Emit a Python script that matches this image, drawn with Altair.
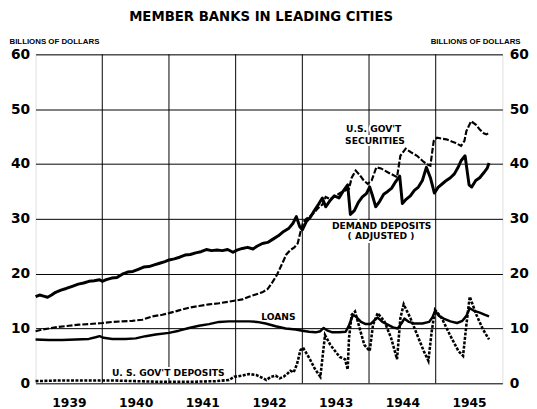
import altair as alt
import pandas as pd

# ---------------- data ----------------
dd_dates = [1939.00, 1939.06, 1939.12, 1939.18, 1939.24, 1939.30, 1939.38, 1939.46, 1939.55, 1939.64,
            1939.72, 1939.80, 1939.88, 1939.96, 1940.00, 1940.06, 1940.14, 1940.22, 1940.30, 1940.38,
            1940.46, 1940.54, 1940.62, 1940.70, 1940.78, 1940.86, 1940.94, 1941.00, 1941.08, 1941.16,
            1941.24, 1941.32, 1941.40, 1941.48, 1941.56, 1941.64, 1941.72, 1941.80, 1941.88, 1941.96,
            1942.02, 1942.10, 1942.18, 1942.26, 1942.32, 1942.40, 1942.48, 1942.56, 1942.64, 1942.72,
            1942.80, 1942.86, 1942.91, 1942.96, 1943.00, 1943.06, 1943.12, 1943.18, 1943.24, 1943.30,
            1943.35, 1943.42, 1943.48, 1943.55, 1943.62, 1943.68, 1943.72, 1943.78, 1943.84, 1943.90,
            1943.96, 1944.01, 1944.05, 1944.10, 1944.16, 1944.22, 1944.28, 1944.34, 1944.40, 1944.46,
            1944.50, 1944.56, 1944.62, 1944.68, 1944.74, 1944.80, 1944.86, 1944.92, 1944.98, 1945.04,
            1945.10, 1945.16, 1945.22, 1945.28, 1945.34, 1945.38, 1945.44, 1945.50, 1945.54, 1945.60,
            1945.66, 1945.72, 1945.77, 1945.80]
dd_values = [15.8, 16.1, 15.9, 15.7, 16.1, 16.6, 17.0, 17.3, 17.7, 18.1,
             18.3, 18.6, 18.7, 18.9, 18.6, 18.9, 19.2, 19.3, 19.9, 20.3,
             20.4, 20.8, 21.2, 21.3, 21.6, 21.9, 22.2, 22.5, 22.7, 23.0,
             23.4, 23.5, 23.8, 24.0, 24.4, 24.2, 24.3, 24.2, 24.4, 23.9,
             24.3, 24.6, 24.8, 24.5, 25.0, 25.5, 25.7, 26.3, 26.9, 27.7,
             28.3, 29.2, 30.4, 28.6, 28.0, 29.5, 30.3, 31.5, 32.6, 33.8,
             32.2, 33.4, 34.2, 33.8, 35.2, 36.2, 30.8, 31.5, 33.0, 34.0,
             34.6, 35.8, 34.3, 32.2, 33.2, 34.5, 35.0, 35.6, 36.8, 37.8,
             32.8, 33.6, 34.2, 35.2, 35.8, 37.0, 39.4, 37.5, 34.7, 35.8,
             36.4, 37.0, 37.5, 38.2, 39.5, 40.6, 41.5, 36.2, 35.8, 37.0,
             37.5, 38.4, 39.2, 40.2]

gs_dates = [1939.00, 1939.10, 1939.20, 1939.35, 1939.50, 1939.65, 1939.80, 1940.00, 1940.15, 1940.30,
            1940.45, 1940.60, 1940.75, 1940.90, 1941.00, 1941.15, 1941.30, 1941.45, 1941.60, 1941.75,
            1941.90, 1942.00, 1942.10, 1942.20, 1942.30, 1942.40, 1942.48, 1942.55, 1942.62, 1942.70,
            1942.76, 1942.82, 1942.88, 1942.93, 1942.97, 1943.01, 1943.06, 1943.12, 1943.18, 1943.24,
            1943.30, 1943.35, 1943.42, 1943.50, 1943.58, 1943.65, 1943.70, 1943.74, 1943.80, 1943.86,
            1943.92, 1943.98, 1944.04, 1944.11, 1944.18, 1944.28, 1944.36, 1944.42, 1944.47, 1944.55,
            1944.62, 1944.72, 1944.80, 1944.86, 1944.92, 1944.97, 1945.02, 1945.10, 1945.16, 1945.24,
            1945.29, 1945.38, 1945.43, 1945.46, 1945.53, 1945.60, 1945.66, 1945.72, 1945.76, 1945.80]
gs_values = [9.5, 9.8, 10.0, 10.3, 10.5, 10.7, 10.8, 11.0, 11.2, 11.3,
             11.4, 11.6, 12.2, 12.5, 12.8, 13.3, 13.8, 14.1, 14.4, 14.6,
             14.9, 15.1, 15.3, 15.8, 16.2, 16.6, 17.2, 18.4, 19.8, 21.9,
             23.5, 24.3, 24.8, 25.5, 27.5, 29.3, 30.0, 30.5, 31.2, 32.0,
             32.6, 34.0, 33.6, 34.2, 34.8, 35.2, 35.5, 37.5, 38.8, 38.0,
             37.0, 36.4, 37.0, 39.4, 39.2, 38.5, 38.0, 37.6, 41.5, 42.8,
             42.2, 41.5, 40.6, 40.0, 39.7, 44.2, 44.8, 44.6, 44.5, 44.1,
             43.9, 43.3, 44.2, 46.0, 47.8, 47.2, 46.3, 45.6, 45.4, 45.7]

ln_dates = [1939.00, 1939.20, 1939.40, 1939.60, 1939.80, 1939.90, 1939.96, 1940.02, 1940.15, 1940.35,
            1940.50, 1940.65, 1940.80, 1941.00, 1941.15, 1941.30, 1941.45, 1941.60, 1941.75, 1941.90,
            1942.05, 1942.20, 1942.32, 1942.45, 1942.60, 1942.75, 1942.90, 1943.00, 1943.10, 1943.20,
            1943.27, 1943.32, 1943.38, 1943.45, 1943.55, 1943.65, 1943.70, 1943.76, 1943.80, 1943.88,
            1943.95, 1944.02, 1944.08, 1944.13, 1944.20, 1944.28, 1944.36, 1944.43, 1944.49, 1944.53,
            1944.60, 1944.68, 1944.80, 1944.90, 1944.95, 1944.99, 1945.05, 1945.12, 1945.22, 1945.32,
            1945.40, 1945.46, 1945.51, 1945.58, 1945.66, 1945.74, 1945.80]
ln_values = [8.0, 7.9, 7.9, 8.0, 8.1, 8.4, 8.6, 8.3, 8.1, 8.1,
             8.2, 8.6, 8.9, 9.2, 9.6, 10.1, 10.5, 10.8, 11.2, 11.3,
             11.3, 11.3, 11.2, 10.9, 10.4, 10.0, 9.8, 9.6, 9.4, 9.3,
             9.5, 10.1, 9.6, 9.3, 9.3, 9.4, 10.6, 12.5, 12.2, 11.2,
             10.8, 10.8, 11.5, 12.0, 11.2, 10.7, 10.2, 10.0, 11.0, 11.8,
             11.2, 10.9, 10.9, 11.2, 12.0, 13.2, 12.3, 11.8, 11.3, 11.0,
             11.4, 12.3, 13.7, 13.2, 12.9, 12.5, 12.2]

gd_dates = [1939.00, 1939.30, 1939.60, 1939.90, 1940.20, 1940.50, 1940.80, 1941.10, 1941.40, 1941.70,
            1941.90, 1941.98, 1942.10, 1942.20, 1942.31, 1942.40, 1942.46, 1942.53, 1942.60, 1942.66,
            1942.72, 1942.78, 1942.82, 1942.87, 1942.92, 1942.97, 1943.01, 1943.10, 1943.19, 1943.27,
            1943.34, 1943.42, 1943.49, 1943.56, 1943.64, 1943.68, 1943.70, 1943.74, 1943.79, 1943.86,
            1943.93, 1944.01, 1944.06, 1944.13, 1944.23, 1944.33, 1944.42, 1944.47, 1944.52, 1944.62,
            1944.72, 1944.82, 1944.89, 1944.94, 1944.99, 1945.09, 1945.21, 1945.34, 1945.41, 1945.46,
            1945.51, 1945.61, 1945.71, 1945.80]
gd_values = [0.4, 0.5, 0.5, 0.5, 0.5, 0.4, 0.3, 0.3, 0.3, 0.4,
             0.6, 1.2, 1.4, 1.7, 1.5, 1.0, 0.6, 1.2, 1.4, 0.9,
             1.2, 1.8, 2.3, 2.0, 3.5, 6.0, 6.5, 4.7, 2.6, 1.2,
             8.8, 7.0, 5.9, 4.8, 4.4, 2.5, 8.3, 12.5, 13.1, 10.0,
             7.0, 5.9, 10.7, 12.8, 11.3, 8.3, 4.4, 11.9, 14.4, 11.9,
             8.9, 5.9, 4.1, 9.5, 13.4, 11.9, 8.9, 5.9, 5.0, 10.7,
             15.8, 12.5, 9.8, 8.0]

label_texts = ["U.S. GOV'T", "SECURITIES", "DEMAND DEPOSITS", "( ADJUSTED )", "LOANS", "U. S. GOV'T DEPOSITS"]
label_dates = [1944.07, 1944.09, 1944.19, 1944.18, 1942.64, 1940.99]
label_values = [46.3, 44.2, 28.6, 26.8, 12.0, 1.85]

year_labels = [1939, 1940, 1941, 1942, 1943, 1944, 1945]
year_lines = [1940, 1941, 1942, 1943, 1944, 1945]
y_ticks = [0, 10, 20, 30, 40, 50, 60]

# ---------------- chart ----------------
FONT = "DejaVu Sans"

def frame(dates, values):
    return pd.DataFrame({"date": dates, "value": values})

x_scale = alt.Scale(domain=[1939, 1946], nice=False, zero=False)
y_scale = alt.Scale(domain=[0, 60], nice=False, zero=False)

x_enc = alt.X(
    "date:Q", scale=x_scale,
    axis=alt.Axis(values=[y + 0.5 for y in year_labels], labelExpr="'' + floor(datum.value)",
                  grid=False, ticks=False, domain=False, title=None,
                  labelFont=FONT, labelFontWeight="bold", labelFontSize=12.5,
                  labelColor="black", labelPadding=14),
)

def y_axis(orient):
    return alt.Axis(
        orient=orient, values=y_ticks, grid=(orient == "left"), gridColor="black",
        gridWidth=1, gridOpacity=1, ticks=False, domain=False,
        labelFont=FONT, labelFontWeight="bold", labelFontSize=14, labelColor="black",
        labelPadding=6 if orient == "left" else 7,
        title="BILLIONS OF DOLLARS", titleAngle=0,
        titleAlign="left" if orient == "left" else "right",
        titleX=-27 if orient == "left" else 18, titleY=-11,
        titleBaseline="alphabetic",
        titleFont="Liberation Sans", titleFontWeight="bold", titleFontSize=8, titleColor="black",
    )

y_none = alt.Y("value:Q", scale=y_scale, axis=None)

vgrid = alt.Chart(pd.DataFrame({"date": year_lines})).mark_rule(
    color="black", strokeWidth=1
).encode(x=x_enc)

dd = alt.Chart(frame(dd_dates, dd_values)).mark_line(
    color="black", strokeWidth=3, strokeJoin="round"
).encode(x=x_enc, y=alt.Y("value:Q", scale=y_scale, axis=y_axis("left")))

gs = alt.Chart(frame(gs_dates, gs_values)).mark_line(
    color="black", strokeWidth=2.2, strokeDash=[6, 2]
).encode(x=x_enc, y=alt.Y("value:Q", scale=y_scale, axis=y_axis("right")))

ln = alt.Chart(frame(ln_dates, ln_values)).mark_line(
    color="black", strokeWidth=2.5, strokeJoin="round"
).encode(x=x_enc, y=y_none)

gd = alt.Chart(frame(gd_dates, gd_values)).mark_line(
    color="black", strokeWidth=2.6, strokeDash=[3, 1.5]
).encode(x=x_enc, y=y_none)

lab_df = pd.DataFrame({"date": label_dates, "value": label_values, "text": label_texts})
halo = alt.Chart(lab_df).mark_text(
    font=FONT, fontWeight="bold", fontSize=9.3, align="center", baseline="middle",
    stroke="white", strokeWidth=4, color="white"
).encode(x=x_enc, y=y_none, text="text:N")
labels = alt.Chart(lab_df).mark_text(
    font=FONT, fontWeight="bold", fontSize=9.3, align="center", baseline="middle", color="black"
).encode(x=x_enc, y=y_none, text="text:N")

chart = alt.layer(vgrid, halo, dd, gs, ln, gd, labels).resolve_axis(
    y="independent"
).properties(
    width=474, height=334,
    autosize=alt.AutoSizeParams(type="none"),
    padding={"left": 28, "top": 44, "right": 27, "bottom": 23},
    title=alt.TitleParams(
        "MEMBER BANKS IN LEADING CITIES", font=FONT, fontWeight="bold", fontSize=13.5,
        color="black", anchor="middle", offset=14, dx=-8,
    ),
).configure_view(stroke="black", strokeWidth=1.2).configure(background="white")

chart.save("out.html", embed_options={"renderer": "svg", "actions": False})
